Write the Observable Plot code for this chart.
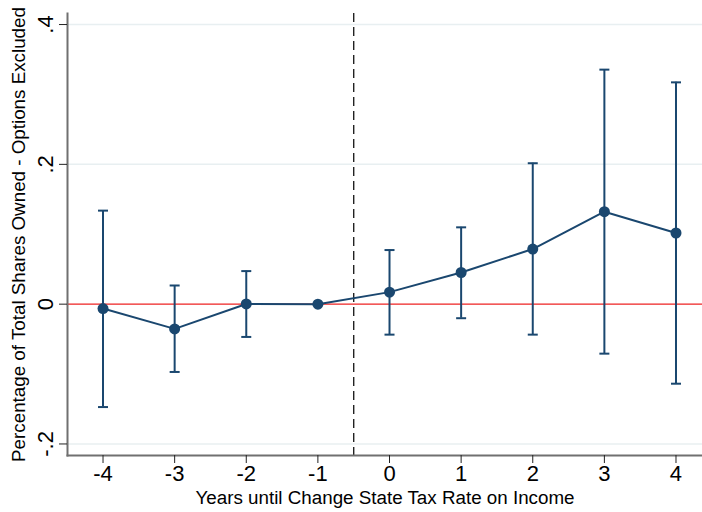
<!DOCTYPE html>
<html>
<head>
<meta charset="utf-8">
<script src="https://cdn.jsdelivr.net/npm/d3@7"></script>
<script src="https://cdn.jsdelivr.net/npm/@observablehq/plot@0.6"></script>
<style>
  html, body { margin: 0; padding: 0; background: #fff; }
  #chart { width: 702px; height: 512px; }
</style>
</head>
<body>
<div id="chart"></div>
<script>
const years    = [-4, -3, -2, -1, 0, 1, 2, 3, 4];
const estimate = [-0.0063, -0.0354, 0.0003, 0.0, 0.0172, 0.0453, 0.0788, 0.1323, 0.1018];
const ciLow    = [-0.1472, -0.0970, -0.0469, null, -0.0436, -0.0201, -0.0436, -0.0708, -0.1138];
const ciHigh   = [0.1338, 0.0267, 0.0473, null, 0.0774, 0.1099, 0.2016, 0.3355, 0.3173];
const eventLine = [-0.5];
const zeroLine = [0];
const xTicks = [-4, -3, -2, -1, 0, 1, 2, 3, 4];
const yTicks = [-0.2, 0, 0.2, 0.4];
const yTickLabels = ["-.2", "0", ".2", ".4"];
const gridTicks = [-0.2, 0.2, 0.4];
const xTitle = "Years until Change State Tax Rate on Income";
const yTitle = "Percentage of Total Shares Owned - Options Excluded";

const rows = years.map((x, i) => ({x, est: estimate[i], lo: ciLow[i], hi: ciHigh[i]}));
const ciRows = rows.filter(d => d.lo != null);

const navy = "#1a476f";
const font = "'Liberation Sans', Arial, Helvetica, sans-serif";

const capSymbol = {
  draw(ctx, size) {
    const w = Math.sqrt(size / Math.PI);
    ctx.moveTo(-w, 0);
    ctx.lineTo(w, 0);
  }
};

const chart = Plot.plot({
  width: 702,
  height: 512,
  marginLeft: 67,
  marginRight: 0,
  marginTop: 13,
  marginBottom: 57,
  style: {fontFamily: font, color: "#000", background: "#fff", overflow: "visible"},
  x: {domain: [-4.496, 4.37]},
  y: {domain: [-0.2165, 0.4158]},
  marks: [
    Plot.gridY(gridTicks, {stroke: "#e8eff1", strokeOpacity: 1, strokeWidth: 1.5}),
    Plot.ruleY(zeroLine, {stroke: "#ee2222", strokeWidth: 1.3}),
    Plot.ruleX(eventLine, {stroke: "#222", strokeWidth: 1.4, strokeDasharray: "9,5"}),
    Plot.ruleX(ciRows, {x: "x", y1: "lo", y2: "hi", stroke: navy, strokeWidth: 2}),
    Plot.dot(ciRows, {x: "x", y: "lo", symbol: capSymbol, r: 5, stroke: navy, strokeWidth: 2, fill: "none"}),
    Plot.dot(ciRows, {x: "x", y: "hi", symbol: capSymbol, r: 5, stroke: navy, strokeWidth: 2, fill: "none"}),
    Plot.line(rows, {x: "x", y: "est", stroke: navy, strokeWidth: 2}),
    Plot.dot(rows, {x: "x", y: "est", r: 5.5, fill: navy, stroke: "none"}),
    Plot.frame({anchor: "left", stroke: "#707070", strokeWidth: 2}),
    Plot.frame({anchor: "bottom", stroke: "#707070", strokeWidth: 2}),
    Plot.axisY({
      ticks: yTicks,
      tickFormat: d => yTickLabels[yTicks.indexOf(d)],
      tickSize: 8,
      tickPadding: 7,
      tickRotate: -90,
      fontSize: 22,
      stroke: "#222",
      label: null
    }),
    Plot.axisX({
      ticks: xTicks,
      tickFormat: d => String(d).replace("−", "-"),
      tickSize: 8,
      tickPadding: 2,
      fontSize: 22,
      stroke: "#222",
      label: null
    }),
    Plot.text([xTitle], {frameAnchor: "bottom", lineAnchor: "middle", dy: 42, fontSize: 18.8, fill: "#000"}),
    Plot.text([yTitle], {frameAnchor: "left", textAnchor: "middle", lineAnchor: "middle", rotate: -90, dx: -49, fontSize: 18.8, fill: "#000"})
  ]
});
document.getElementById("chart").appendChild(chart);
</script>
</body>
</html>
